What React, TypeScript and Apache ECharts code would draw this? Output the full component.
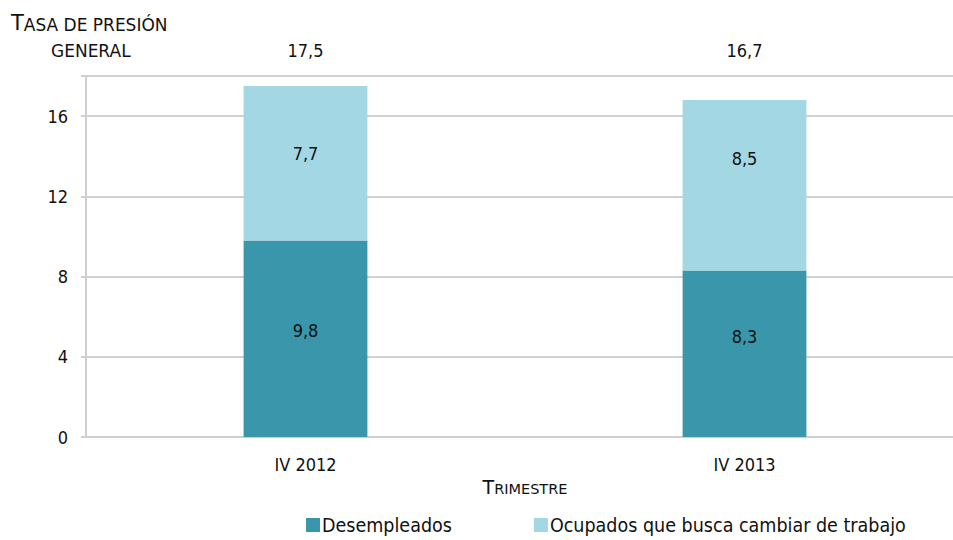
import React, { useEffect, useRef } from "react";
import * as echarts from "echarts";

const categories = ["IV 2012", "IV 2013"];
const desempleados = [9.8, 8.3];
const ocupados = [7.7, 8.5];
const totals = [17.5, 16.7];
const seriesNames = ["Desempleados", "Ocupados que busca cambiar de trabajo"];

const FONT = "'DejaVu Sans Condensed', 'Liberation Sans Narrow', 'Roboto', sans-serif";
const TFONT = "'DejaVu Sans', 'Verdana', sans-serif";
const fmt = (v: number) => v.toFixed(1).replace(".", ",");

export default function App() {
  const ref = useRef<HTMLDivElement>(null);
  useEffect(() => {
    if (!ref.current) return;
    const chart = echarts.init(ref.current, undefined, { renderer: "svg" });
    const darkOffsets = [-8, -17];
    const lightOffsets = [-10, -27];
    const option: any = {
      animation: false,
      textStyle: { fontFamily: FONT, color: "#111" },
      grid: { left: 86, width: 878, top: 76, bottom: 103, containLabel: false, outerBoundsMode: "none" },
      title: {
        left: 6,
        top: 0,
        text: "{a|T}{b|ASA DE PRESIÓN}\n{c|GENERAL}",
        textStyle: {
          fontWeight: "normal",
          rich: {
            a: { fontFamily: TFONT, fontWeight: "normal", fontSize: 21, color: "#111", lineHeight: 28, verticalAlign: "bottom" },
            b: { fontFamily: TFONT, fontWeight: "normal", fontSize: 17, color: "#111", lineHeight: 28, verticalAlign: "bottom" },
            c: { fontFamily: TFONT, fontWeight: "normal", fontSize: 17, color: "#111", lineHeight: 26, verticalAlign: "bottom", padding: [0, 0, 0, 40] },
          },
        },
      },
      legend: {
        bottom: 0,
        left: 301,
        itemWidth: 14,
        itemHeight: 14,
        itemGap: 82,
        icon: "rect",
        textStyle: { fontFamily: FONT, fontSize: 19.5, color: "#111", padding: [0, 0, 0, -3] },
        data: seriesNames,
      },
      xAxis: {
        type: "category",
        data: categories,
        name: "{a|T}{b|RIMESTRE}",
        nameLocation: "middle",
        nameGap: 35,
        nameTextStyle: {
          rich: {
            a: { fontFamily: TFONT, fontSize: 19, color: "#111", verticalAlign: "bottom", lineHeight: 22 },
            b: { fontFamily: TFONT, fontSize: 14.5, color: "#111", verticalAlign: "bottom", lineHeight: 22 },
          },
        },
        axisLine: { lineStyle: { color: "#cfcfcf", width: 2 } },
        axisTick: { length: 5, lineStyle: { color: "#cfcfcf", width: 2 } },
        axisLabel: { fontFamily: FONT, fontSize: 18, color: "#111", margin: 18 },
      },
      yAxis: {
        type: "value",
        min: 0,
        max: 18,
        interval: 4,
        axisLine: { show: true, lineStyle: { color: "#cfcfcf", width: 2 } },
        axisTick: { show: true, length: 5, lineStyle: { color: "#cfcfcf", width: 2 } },
        splitLine: { lineStyle: { color: "#d0d0d0", width: 2 } },
        axisLabel: {
          fontFamily: FONT,
          fontSize: 18,
          color: "#111",
          margin: 18,
          formatter: (v: number) => (v === 18 ? "" : String(v)),
        },
      },
      series: [
        {
          name: seriesNames[0],
          type: "bar",
          stack: "t",
          barWidth: "28.2%",
          data: desempleados.map((v, i) => ({ value: v, label: { offset: [0, darkOffsets[i]] } })),
          itemStyle: { color: "#3a97ab" },
          label: { show: true, position: "inside", fontFamily: FONT, fontSize: 18, color: "#111", formatter: (p: any) => fmt(p.value) },
        },
        {
          name: seriesNames[1],
          type: "bar",
          stack: "t",
          barWidth: "28.2%",
          data: ocupados.map((v, i) => ({ value: v, label: { offset: [0, lightOffsets[i]] } })),
          itemStyle: { color: "#a3d7e4" },
          label: { show: true, position: "inside", fontFamily: FONT, fontSize: 18, color: "#111", formatter: (p: any) => fmt(p.value) },
        },
        {
          name: "Total",
          type: "custom",
          data: totals.map((t, i) => [i, t]),
          clip: false,
          silent: true,
          renderItem: (params: any, api: any) => {
            const x = api.coord([api.value(0), 0])[0];
            const y = params.coordSys.y - 26;
            return {
              type: "text",
              x,
              y,
              style: {
                text: fmt(api.value(1)),
                fontFamily: FONT,
                fontSize: 18,
                fill: "#111",
                align: "center",
                verticalAlign: "middle",
              },
            };
          },
        },
      ],
    };
    chart.setOption(option);
    return () => chart.dispose();
  }, []);
  return <div ref={ref} style={{ width: 953, height: 540, position: "absolute", left: 0, top: 0 }} />;
}
